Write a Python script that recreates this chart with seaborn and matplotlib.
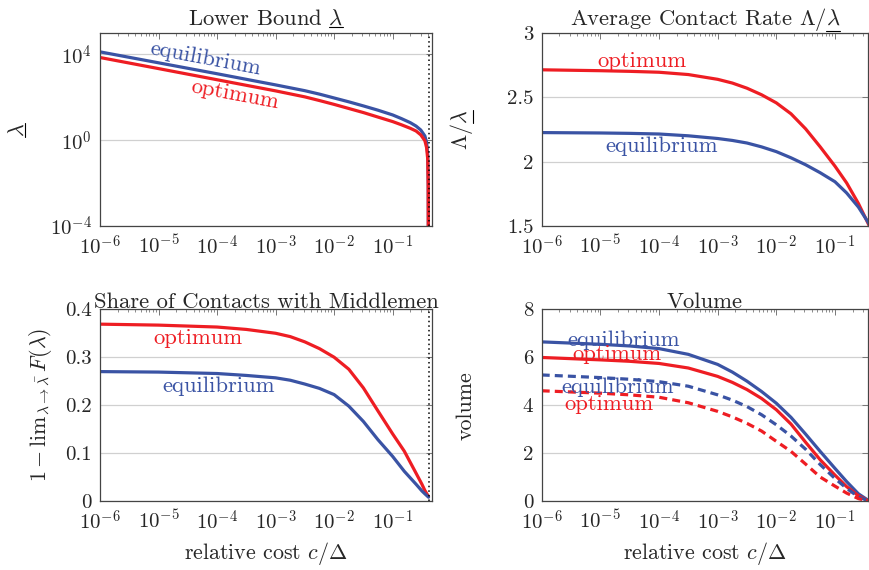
import matplotlib
matplotlib.use('Agg')
import matplotlib.pyplot as plt
import matplotlib.ticker as mticker
from matplotlib.lines import Line2D
import numpy as np
import pandas as pd
import seaborn as sns

# ---- data ----
# lower bound (top left)
x_bound = [1e-6, 1e-5, 1e-4, 1e-3, 3.16e-3, 5.62e-3, 1e-2, 0.0178, 0.0316, 0.0562, 0.1,
           0.141, 0.2, 0.251, 0.302, 0.355, 0.380, 0.398, 0.405, 0.407]
bound_eq = [1.32e4, 4074, 1259, 380, 204, 141, 93.3, 61.7, 39.8, 25.1, 15.1,
            10.2, 6.6, 4.57, 3.0, 1.58, 0.79, 0.2, 0.01, 1e-5]
bound_opt = [7.2e3, 2188, 661, 200, 105, 70.8, 46.8, 30.2, 19.5, 12.0, 7.4,
             5.25, 3.6, 2.69, 1.78, 0.95, 0.45, 0.126, 0.0063, 1e-5]

# contact share (bottom left)
x_share = [1e-6, 1e-5, 1e-4, 3.16e-4, 1e-3, 1.78e-3, 3.16e-3, 5.6e-3, 1e-2, 0.0178, 0.0316,
           0.056, 0.1, 0.158, 0.251, 0.316, 0.355, 0.41]
share_eq = [0.270, 0.269, 0.266, 0.262, 0.257, 0.252, 0.244, 0.235, 0.222, 0.198, 0.166,
            0.128, 0.093, 0.062, 0.035, 0.021, 0.015, 0.008]
share_opt = [0.369, 0.367, 0.363, 0.358, 0.350, 0.343, 0.332, 0.318, 0.300, 0.275, 0.236,
             0.188, 0.140, 0.104, 0.058, 0.035, 0.022, 0.009]

# right column (contact rate and volume)
x_right = [1e-6, 1e-5, 3.16e-5, 1e-4, 3.16e-4, 1e-3, 1.78e-3, 3.16e-3, 5.6e-3, 1e-2,
           0.0178, 0.0316, 0.056, 0.1, 0.158, 0.251, 0.363, 0.40]
rate_opt = [2.714, 2.707, 2.702, 2.695, 2.677, 2.640, 2.611, 2.571, 2.520, 2.457,
            2.372, 2.255, 2.115, 1.965, 1.835, 1.675, 1.525, 1.485]
rate_eq = [2.226, 2.223, 2.220, 2.215, 2.201, 2.180, 2.165, 2.145, 2.115, 2.078,
           2.030, 1.976, 1.914, 1.844, 1.757, 1.647, 1.533, 1.50]
vol_eq = [6.64, 6.54, 6.47, 6.36, 6.12, 5.70, 5.38, 5.00, 4.57, 4.08,
          3.49, 2.79, 2.07, 1.36, 0.81, 0.30, 0.04, 0.0]
vol_opt = [5.99, 5.89, 5.83, 5.74, 5.55, 5.20, 4.95, 4.65, 4.28, 3.81,
           3.21, 2.45, 1.72, 1.08, 0.60, 0.22, 0.02, 0.0]
vol_eq_d = [5.26, 5.15, 5.08, 4.98, 4.79, 4.43, 4.21, 3.94, 3.60, 3.18,
            2.71, 2.16, 1.52, 0.94, 0.53, 0.17, 0.02, 0.0]
vol_opt_d = [4.60, 4.50, 4.43, 4.33, 4.10, 3.74, 3.51, 3.24, 2.92, 2.49,
             2.07, 1.54, 1.00, 0.62, 0.33, 0.10, 0.0, 0.0]

c_bar = 0.41  # dotted line
x_ticks = [1e-6, 1e-5, 1e-4, 1e-3, 1e-2, 1e-1]
x_ticklabels = [r'$10^{-6}$', r'$10^{-5}$', r'$10^{-4}$', r'$10^{-3}$', r'$10^{-2}$', r'$10^{-1}$']

BLUE = '#3A53A4'
RED = '#EE1D23'

sns.set_style('white')
plt.rcParams['font.family'] = ['cmr10', 'DejaVu Serif']
plt.rcParams['mathtext.fontset'] = 'cm'
plt.rcParams['axes.unicode_minus'] = False
plt.rcParams['axes.formatter.use_mathtext'] = True

FS = 15        # tick labels
FS_LAB = 15.8  # axis labels
FS_TXT = 16.3  # titles and curve labels

fig = plt.figure(figsize=(8.69, 5.70), dpi=100)
W, H = 869, 570


def make_ax(l, r, t, b):
    return fig.add_axes([l / W, 1 - b / H, (r - l) / W, (b - t) / H])


ax_tl = make_ax(100, 432, 33, 226)
ax_tr = make_ax(541.7, 868.3, 33, 226)
ax_bl = make_ax(100, 432, 309.3, 501)
ax_br = make_ax(541.7, 868.3, 309.3, 501)


def style(ax, xmax):
    ax.set_xscale('log')
    ax.set_xlim(1e-6, xmax)
    ax.set_xticks(x_ticks)
    ax.set_xticklabels(x_ticklabels)
    ax.xaxis.set_minor_locator(mticker.LogLocator(base=10, subs=np.arange(2, 10), numticks=20))
    ax.xaxis.set_minor_formatter(mticker.NullFormatter())
    ax.tick_params(axis='both', which='both', direction='in', top=True, right=True,
                   labelsize=FS, color='#777777', pad=6)
    ax.tick_params(which='major', length=4, width=0.7)
    ax.tick_params(which='minor', length=2.5, width=0.6)
    ax.tick_params(axis='y', which='minor', left=False, right=False)
    ax.grid(axis='y', which='major', color='#d0d0d0', lw=0.9)
    ax.grid(axis='x', visible=False)
    ax.set_axisbelow(True)
    for s in ax.spines.values():
        s.set_color('#444444')
        s.set_linewidth(0.9)


def label(ax, fx, fy, txt, col, rot=0):
    ax.text(fx, fy, txt, transform=ax.transAxes, color=col, fontsize=FS_TXT,
            rotation=rot, ha='center', va='center', rotation_mode='anchor')


LW = 2.3
DASH = (0, (2.5, 1.6))

# top left: lower bound
df = pd.DataFrame({'x': x_bound, 'eq': bound_eq, 'opt': bound_opt})
sns.lineplot(data=df, x='x', y='eq', ax=ax_tl, color=BLUE, lw=LW)
sns.lineplot(data=df, x='x', y='opt', ax=ax_tl, color=RED, lw=LW)
ax_tl.axvline(c_bar, color='black', ls=(0, (1, 2)), lw=1.1)
style(ax_tl, 0.47)
ax_tl.set_yscale('log')
ax_tl.set_ylim(1e-4, 1e5)
ax_tl.set_yticks([1e-4, 1, 1e4])
ax_tl.set_yticklabels([r'$10^{-4}$', r'$10^{0}$', r'$10^{4}$'])
ax_tl.yaxis.set_minor_locator(mticker.NullLocator())
ax_tl.set_title(r'Lower Bound $\lambda$', fontsize=FS_TXT, pad=6)
ax_tl.set_ylabel(r'$\lambda$', fontsize=FS_LAB, labelpad=16)
ax_tl.set_xlabel('')
label(ax_tl, 0.318, 0.865, 'equilibrium', BLUE, rot=-10.6)
label(ax_tl, 0.407, 0.679, 'optimum', RED, rot=-10.6)

# top right: contact rate
df = pd.DataFrame({'x': x_right, 'eq': rate_eq, 'opt': rate_opt})
sns.lineplot(data=df, x='x', y='opt', ax=ax_tr, color=RED, lw=LW)
sns.lineplot(data=df, x='x', y='eq', ax=ax_tr, color=BLUE, lw=LW)
style(ax_tr, 0.37)
ax_tr.set_ylim(1.5, 3)
ax_tr.set_yticks([1.5, 2, 2.5, 3])
ax_tr.set_yticklabels(['1.5', '2', '2.5', '3'])
ax_tr.set_title(r'Average Contact Rate $\Lambda/\lambda$', fontsize=FS_TXT, pad=6)
ax_tr.set_ylabel(r'$\Lambda/\lambda$', fontsize=FS_LAB, labelpad=23)
ax_tr.set_xlabel('')
label(ax_tr, 0.307, 0.855, 'optimum', RED)
label(ax_tr, 0.367, 0.415, 'equilibrium', BLUE)

# bottom left: share of contacts with middlemen
df = pd.DataFrame({'x': x_share, 'eq': share_eq, 'opt': share_opt})
sns.lineplot(data=df, x='x', y='opt', ax=ax_bl, color=RED, lw=LW)
sns.lineplot(data=df, x='x', y='eq', ax=ax_bl, color=BLUE, lw=LW)
ax_bl.axvline(c_bar, color='black', ls=(0, (1, 2)), lw=1.1)
style(ax_bl, 0.47)
ax_bl.set_ylim(0, 0.4)
ax_bl.set_yticks([0, 0.1, 0.2, 0.3, 0.4])
ax_bl.set_yticklabels(['0', '0.1', '0.2', '0.3', '0.4'])
ax_bl.set_title('Share of Contacts with Middlemen', fontsize=FS_TXT, pad=1)
ax_bl.set_ylabel(r'$1-\mathrm{lim}_{\lambda\to\bar{\lambda}}\,F(\lambda)$', fontsize=FS_LAB, labelpad=8)
ax_bl.set_xlabel(r'relative cost $c/\Delta$', fontsize=FS_LAB, labelpad=5)
label(ax_bl, 0.294, 0.848, 'optimum', RED)
label(ax_bl, 0.357, 0.60, 'equilibrium', BLUE)

# bottom right: volume
df = pd.DataFrame({'x': x_right, 'eq': vol_eq, 'opt': vol_opt, 'eq_d': vol_eq_d, 'opt_d': vol_opt_d})
sns.lineplot(data=df, x='x', y='eq', ax=ax_br, color=BLUE, lw=LW)
sns.lineplot(data=df, x='x', y='opt', ax=ax_br, color=RED, lw=LW)
sns.lineplot(data=df, x='x', y='eq_d', ax=ax_br, color=BLUE, lw=LW, ls=DASH)
sns.lineplot(data=df, x='x', y='opt_d', ax=ax_br, color=RED, lw=LW, ls=DASH)
style(ax_br, 0.37)
ax_br.set_ylim(0, 8)
ax_br.set_yticks([0, 2, 4, 6, 8])
ax_br.set_yticklabels(['0', '2', '4', '6', '8'])
ax_br.set_title('Volume', fontsize=FS_TXT, pad=1)
ax_br.set_ylabel('volume', fontsize=FS_LAB, labelpad=34)
ax_br.set_xlabel(r'relative cost $c/\Delta$', fontsize=FS_LAB, labelpad=5)
label(ax_br, 0.252, 0.84, 'equilibrium', BLUE)
label(ax_br, 0.231, 0.767, 'optimum', RED)
label(ax_br, 0.232, 0.592, 'equilibrium', BLUE)
label(ax_br, 0.206, 0.506, 'optimum', RED)

# underline the trailing lambda (mathtext has no \underline)
fig.canvas.draw()
rend = fig.canvas.get_renderer()


def underline(txt, vertical=False, gap=2.0):
    fs = txt.get_fontsize()
    tmp = fig.text(0, 0, r'$\lambda$', fontsize=fs)
    lam_w = tmp.get_window_extent(rend).width
    tmp.remove()
    _, _, lp_d = rend.get_text_width_height_descent('lp', txt.get_fontproperties(), ismath=False)
    bb = txt.get_window_extent(rend)
    if vertical:
        x = bb.x1 - lp_d + gap
        xs, ys = [x, x], [bb.y1 - lam_w, bb.y1 - 0.5]
    else:
        y = bb.y0 + lp_d - gap
        xs, ys = [bb.x1 - lam_w, bb.x1 - 0.5], [y, y]
    fig.add_artist(Line2D([v / W for v in xs], [v / H for v in ys],
                          transform=fig.transFigure, color='black', lw=0.8))


underline(ax_tl.title)
underline(ax_tr.title)
underline(ax_tl.yaxis.label, vertical=True)
underline(ax_tr.yaxis.label, vertical=True)

fig.savefig('out.png', dpi=100)
